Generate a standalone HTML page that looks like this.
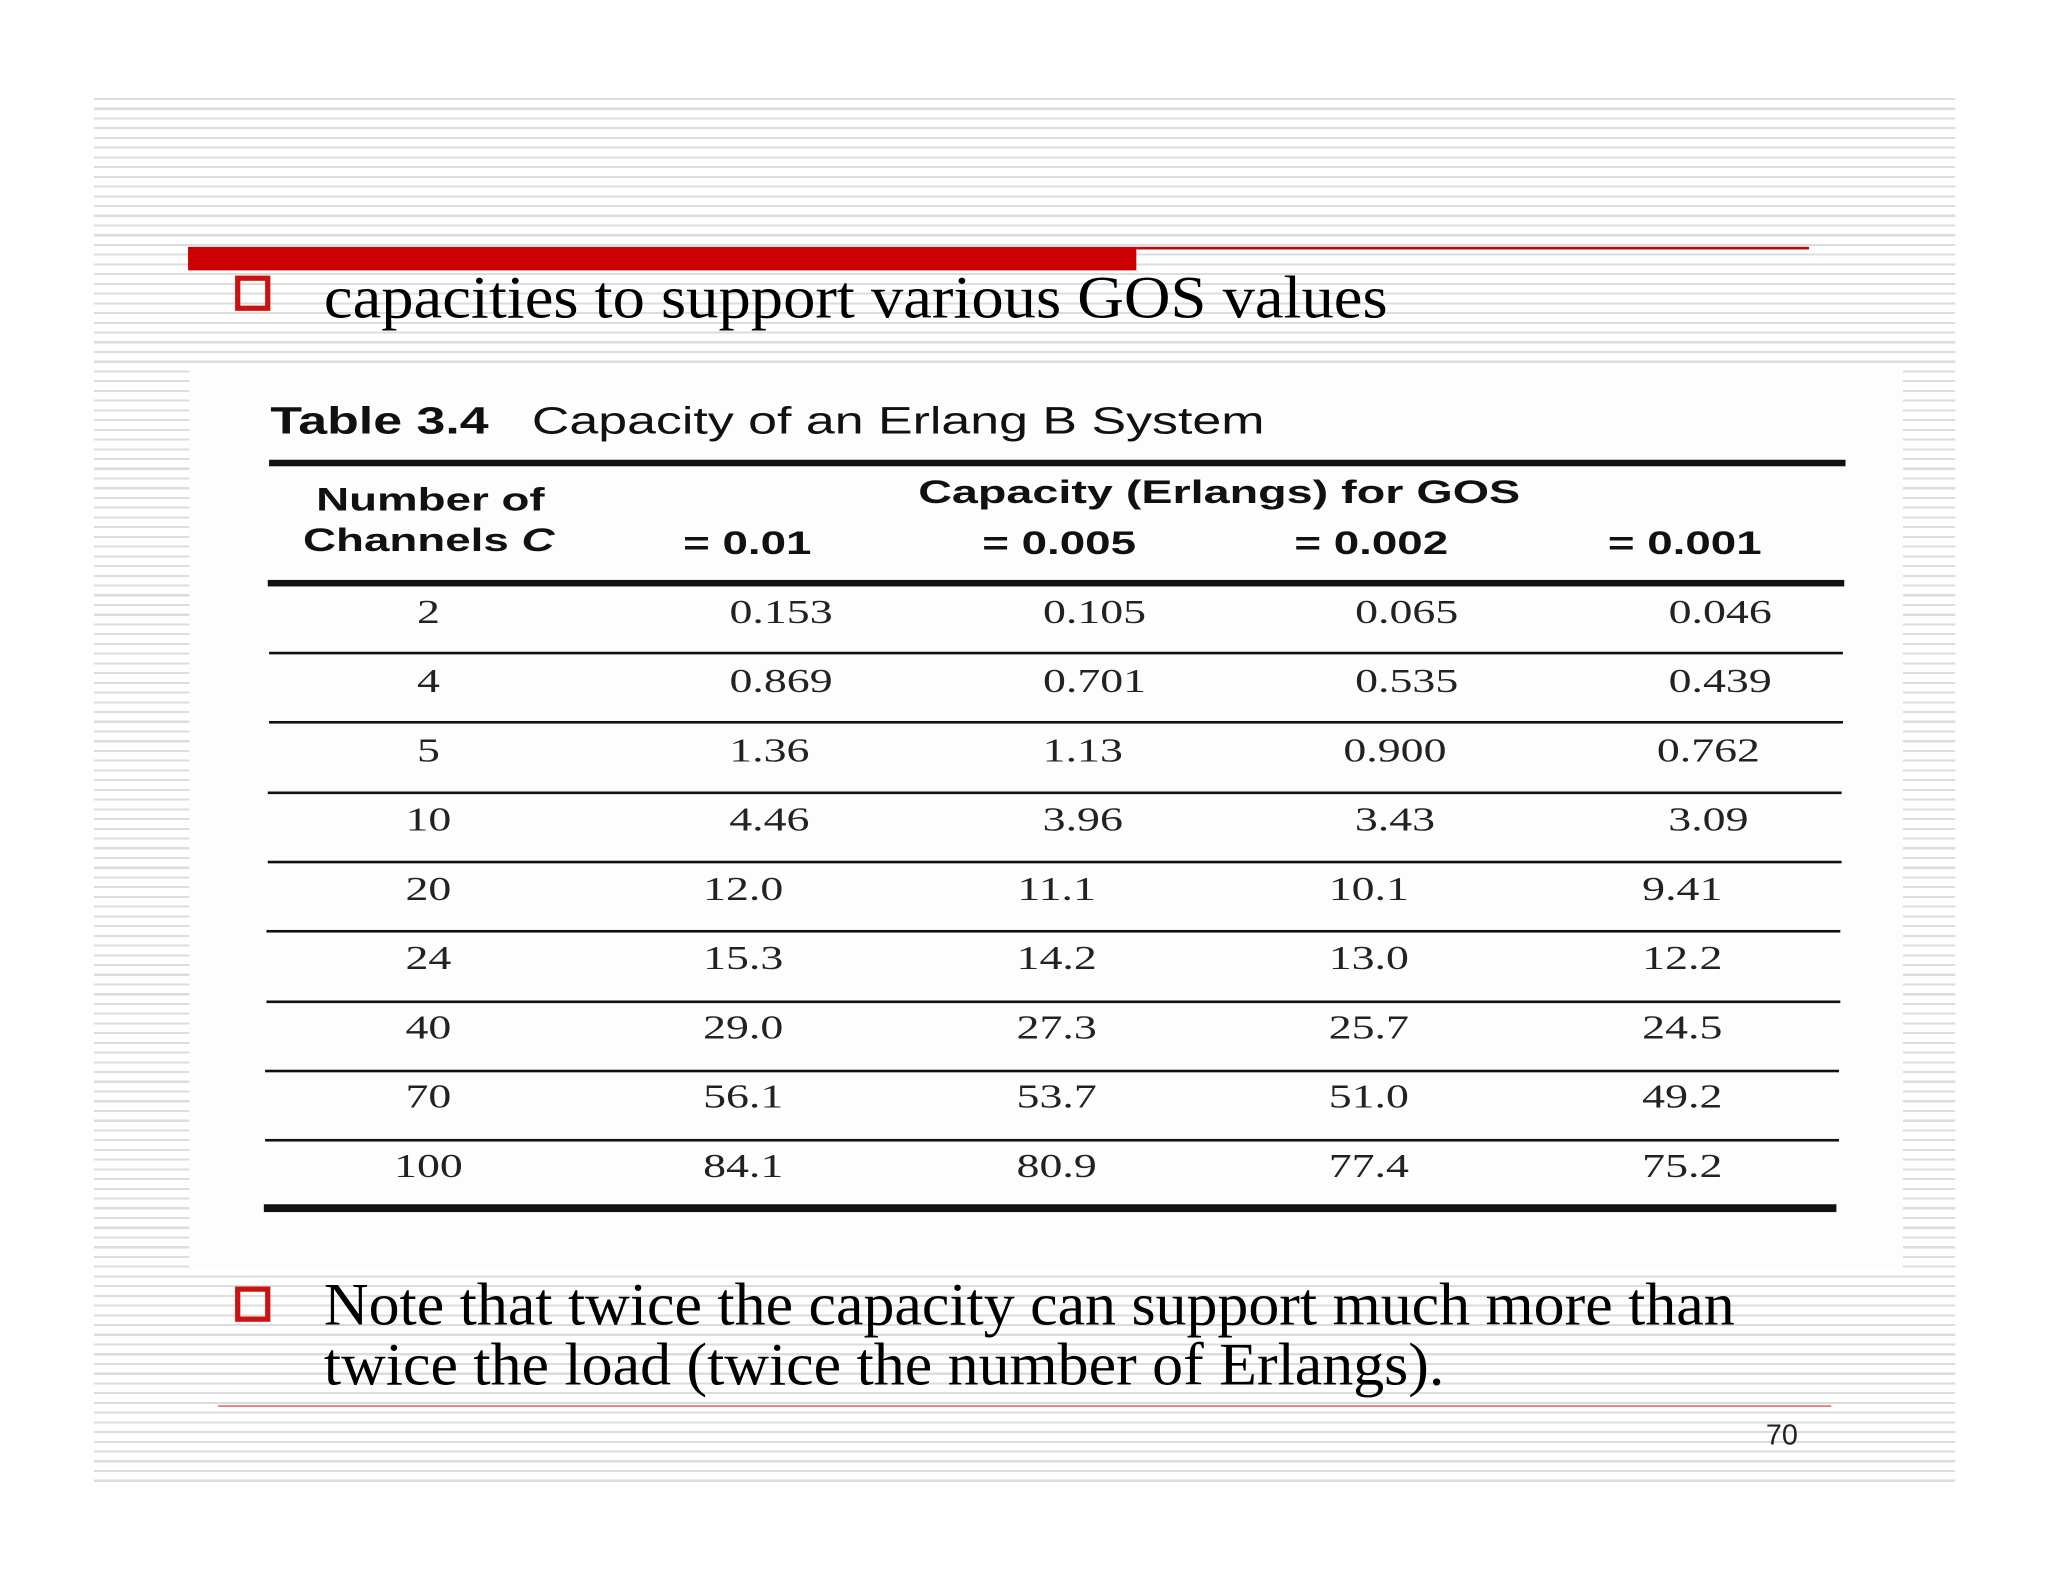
<!DOCTYPE html>
<html><head><meta charset="utf-8"><style>
html,body{margin:0;padding:0;width:2048px;height:1582px;overflow:hidden;background:#fff}
#s{position:absolute;left:0;top:0;width:1568px;height:1211px;transform:scale(1.30612);transform-origin:0 0}
.a{position:absolute}
.stripes{left:72px;top:75px;width:1425px;height:1062px;background:repeating-linear-gradient(to bottom,#dcdcdc 0,#dcdcdc 1.6px,#fff 1.6px,#fff 7.45px)}
.ser{font-family:"Liberation Serif",serif;color:#000;transform-origin:0 0;white-space:nowrap}
.sans{font-family:"Liberation Sans",sans-serif;color:#111}
.rule{background:#111}
.cell{position:absolute;font-family:"Liberation Serif",serif;font-size:26px;color:#222;transform:translate(-50%,-50%) scaleX(1.35);white-space:nowrap}
.hd{position:absolute;font-family:"Liberation Sans",sans-serif;font-weight:bold;font-size:25px;color:#111;white-space:nowrap;transform:scaleX(1.4);transform-origin:0 0}
.box{width:27px;height:27px;border:4px solid #cc1111;box-sizing:border-box}
</style></head><body>
<div id="s">
<div class="a stripes"></div>
<div class="a" style="left:144px;top:189px;width:726px;height:18px;background:#cc0000"></div>
<div class="a" style="left:870px;top:189px;width:515px;height:2px;background:#cc0000"></div>
<div class="a box" style="left:180px;top:211px"></div>
<div class="a ser" style="left:248px;top:200px;font-size:46px;line-height:56px;transform:scaleX(1.075)">capacities to support various GOS values</div>
<div class="a" style="left:145px;top:281px;width:1312px;height:690px;background:#fdfdfd"></div>
<div class="a sans" style="left:207px;top:305px;font-size:29px;line-height:36px;white-space:nowrap;transform:scaleX(1.37);transform-origin:0 0"><b>Table 3.4</b>&nbsp;&nbsp;&nbsp;Capacity of an Erlang B System</div>
<div class="a rule" style="left:206px;top:352px;width:1207px;height:5px"></div>
<div class="hd" style="left:242px;top:369px">Number of</div>
<div class="hd" style="left:232px;top:400px">Channels <i>C</i></div>
<div class="hd" style="left:703px;top:363px;transform:scaleX(1.43)">Capacity (Erlangs) for GOS</div>
<div class="hd" style="left:523px;top:402px">= 0.01</div>
<div class="hd" style="left:752px;top:402px">= 0.005</div>
<div class="hd" style="left:991px;top:402px">= 0.002</div>
<div class="hd" style="left:1231px;top:402px">= 0.001</div>
<div class="a rule" style="left:205px;top:444px;width:1207px;height:5px"></div>
<div id="rows"></div>
<div class="a rule" style="left:202px;top:922px;width:1204px;height:6px"></div>
<div class="a box" style="left:180px;top:985px"></div>
<div class="a ser" style="left:248px;top:976px;font-size:46px;line-height:46px;transform:scaleX(1.03)">Note that twice the capacity can support much more than<br>twice the load (twice the number of Erlangs).</div>
<div class="a" style="left:167px;top:1076px;width:1235px;height:1px;background:#dd4444"></div>
<div class="a sans" style="left:1352px;top:1086px;font-size:22px;color:#222">70</div>
</div>
<script>
const channels=["2","4","5","10","20","24","40","70","100"];
const gos001=["0.153","0.869","1.36","4.46","12.0","15.3","29.0","56.1","84.1"];
const gos0005=["0.105","0.701","1.13","3.96","11.1","14.2","27.3","53.7","80.9"];
const gos0002=["0.065","0.535","0.900","3.43","10.1","13.0","25.7","51.0","77.4"];
const gos0001=["0.046","0.439","0.762","3.09","9.41","12.2","24.5","49.2","75.2"];
const root=document.getElementById('rows');
const cols=[[328,channels,'channels'],[598,gos001,'gos-001'],[838,gos0005,'gos-0005'],[1077,gos0002,'gos-0002'],[1317,gos0001,'gos-0001']];
for(let i=0;i<channels.length;i++){
  const cy=469+i*53;
  cols.forEach(([x,arr,n],j)=>{
    const d=document.createElement('div');
    d.className='cell';
    d.style.left=(x-(j>0&&i>=4?29:0)+(j>0&&i>=2&&i<4?-9:0))+'px';
    d.style.top=cy+'px';
    d.textContent=arr[i];
    
    
    root.appendChild(d);
  });
  if(i<channels.length-1){
    const r=document.createElement('div');
    r.className='a rule';
    r.style.left=(206-i*0.5)+'px';r.style.top=(499+i*53.3)+'px';r.style.width='1205px';r.style.height='2px';
    
    
    root.appendChild(r);
  }
}
</script>
</body></html>
